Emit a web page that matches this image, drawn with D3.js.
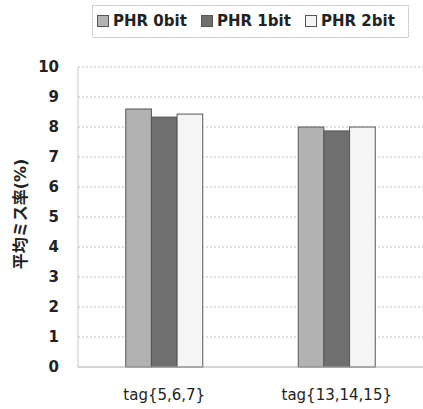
<!DOCTYPE html>
<html>
<head>
<meta charset="utf-8">
<script src="https://cdn.jsdelivr.net/npm/d3@7"></script>
<style>
  body { margin: 0; background: #fff; }
  text { font-family: "DejaVu Sans", "Noto Sans CJK JP", sans-serif; }
</style>
</head>
<body>
<div id="chart"></div>
<script>
// data
const categories = ["tag{5,6,7}", "tag{13,14,15}"];
const seriesNames = ["PHR 0bit", "PHR 1bit", "PHR 2bit"];
const phr0 = [8.6, 8.0];
const phr1 = [8.33, 7.87];
const phr2 = [8.43, 8.0];
const yTicks = [0, 1, 2, 3, 4, 5, 6, 7, 8, 9, 10];

const seriesValues = [phr0, phr1, phr2];
const colors = ["#b2b2b2", "#6f6f6f", "#f5f5f5"];

const W = 423, H = 409;
const margin = {top: 67, right: 0, bottom: 42, left: 78};

const svg = d3.select("#chart")
  .append("svg")
    .attr("width", W)
    .attr("height", H);

const x0 = d3.scaleBand()
  .domain(categories)
  .range([margin.left, W - margin.right]);

const groupW = 77;
const x1 = d3.scaleBand()
  .domain(seriesNames)
  .range([0, groupW]);

const y = d3.scaleLinear()
  .domain([0, 10])
  .range([H - margin.bottom, margin.top]);

// gridlines
svg.append("g")
  .selectAll("line")
  .data(yTicks.filter(d => d > 0))
  .join("line")
    .attr("x1", margin.left)
    .attr("x2", W)
    .attr("y1", d => y(d))
    .attr("y2", d => y(d))
    .attr("stroke", "#bdbdbd")
    .attr("stroke-dasharray", "2,2");

// left edge of plot area
svg.append("line")
  .attr("x1", margin.left).attr("x2", margin.left)
  .attr("y1", y(10)).attr("y2", y(0))
  .attr("stroke", "#c8c8c8");

// y tick labels
svg.append("g")
  .selectAll("text")
  .data(yTicks)
  .join("text")
    .attr("x", 59)
    .attr("y", d => y(d))
    .attr("dy", "0.36em")
    .attr("text-anchor", "end")
    .attr("font-size", 15)
    .attr("font-weight", "bold")
    .attr("fill", "#222")
    .text(d => d);

// bars
const groups = svg.append("g")
  .selectAll("g")
  .data(categories)
  .join("g")
    .attr("transform", d => `translate(${x0(d) + x0.bandwidth() / 2 - groupW / 2},0)`);

groups.selectAll("rect")
  .data((d, i) => seriesNames.map((s, j) => ({s, v: seriesValues[j][i], j})))
  .join("rect")
    .attr("x", d => x1(d.s))
    .attr("y", d => y(d.v))
    .attr("width", x1.bandwidth())
    .attr("height", d => y(0) - y(d.v))
    .attr("fill", d => colors[d.j])
    .attr("stroke", "#555")
    .attr("stroke-width", 1);

// x axis line
svg.append("line")
  .attr("x1", margin.left).attr("x2", W)
  .attr("y1", y(0)).attr("y2", y(0))
  .attr("stroke", "#aaa");

// x labels
svg.append("g")
  .selectAll("text")
  .data(categories)
  .join("text")
    .attr("x", d => x0(d) + x0.bandwidth() / 2)
    .attr("y", 400)
    .attr("text-anchor", "middle")
    .attr("font-size", 15)
    .attr("fill", "#222")
    .text(d => d);

// y axis title
svg.append("text")
  .attr("transform", `translate(26,214) rotate(-90)`)
  .attr("text-anchor", "middle")
  .attr("font-family", "Noto Sans CJK JP")
  .attr("font-size", 16)
  .attr("font-weight", "bold")
  .attr("fill", "#222")
  .text("平均ミス率(%)");

// legend
const legend = svg.append("g");
legend.append("rect")
  .attr("x", 92.5).attr("y", 5.5)
  .attr("width", 316).attr("height", 32)
  .attr("fill", "#fff")
  .attr("stroke", "#bbb")
  .attr("stroke-dasharray", "2,1");

const legendX = [97, 201, 305];
const items = legend.selectAll("g.item")
  .data(seriesNames)
  .join("g")
    .attr("class", "item")
    .attr("transform", (d, i) => `translate(${legendX[i]},15)`);

items.append("rect")
  .attr("x", 0.5).attr("y", 0.5)
  .attr("width", 11).attr("height", 11)
  .attr("fill", (d, i) => colors[i])
  .attr("stroke", "#555");

items.append("text")
  .attr("x", 16)
  .attr("y", 6)
  .attr("dy", "0.36em")
  .attr("font-size", 15)
  .attr("font-weight", "bold")
  .attr("fill", "#222")
  .text(d => d);
</script>
</body>
</html>
